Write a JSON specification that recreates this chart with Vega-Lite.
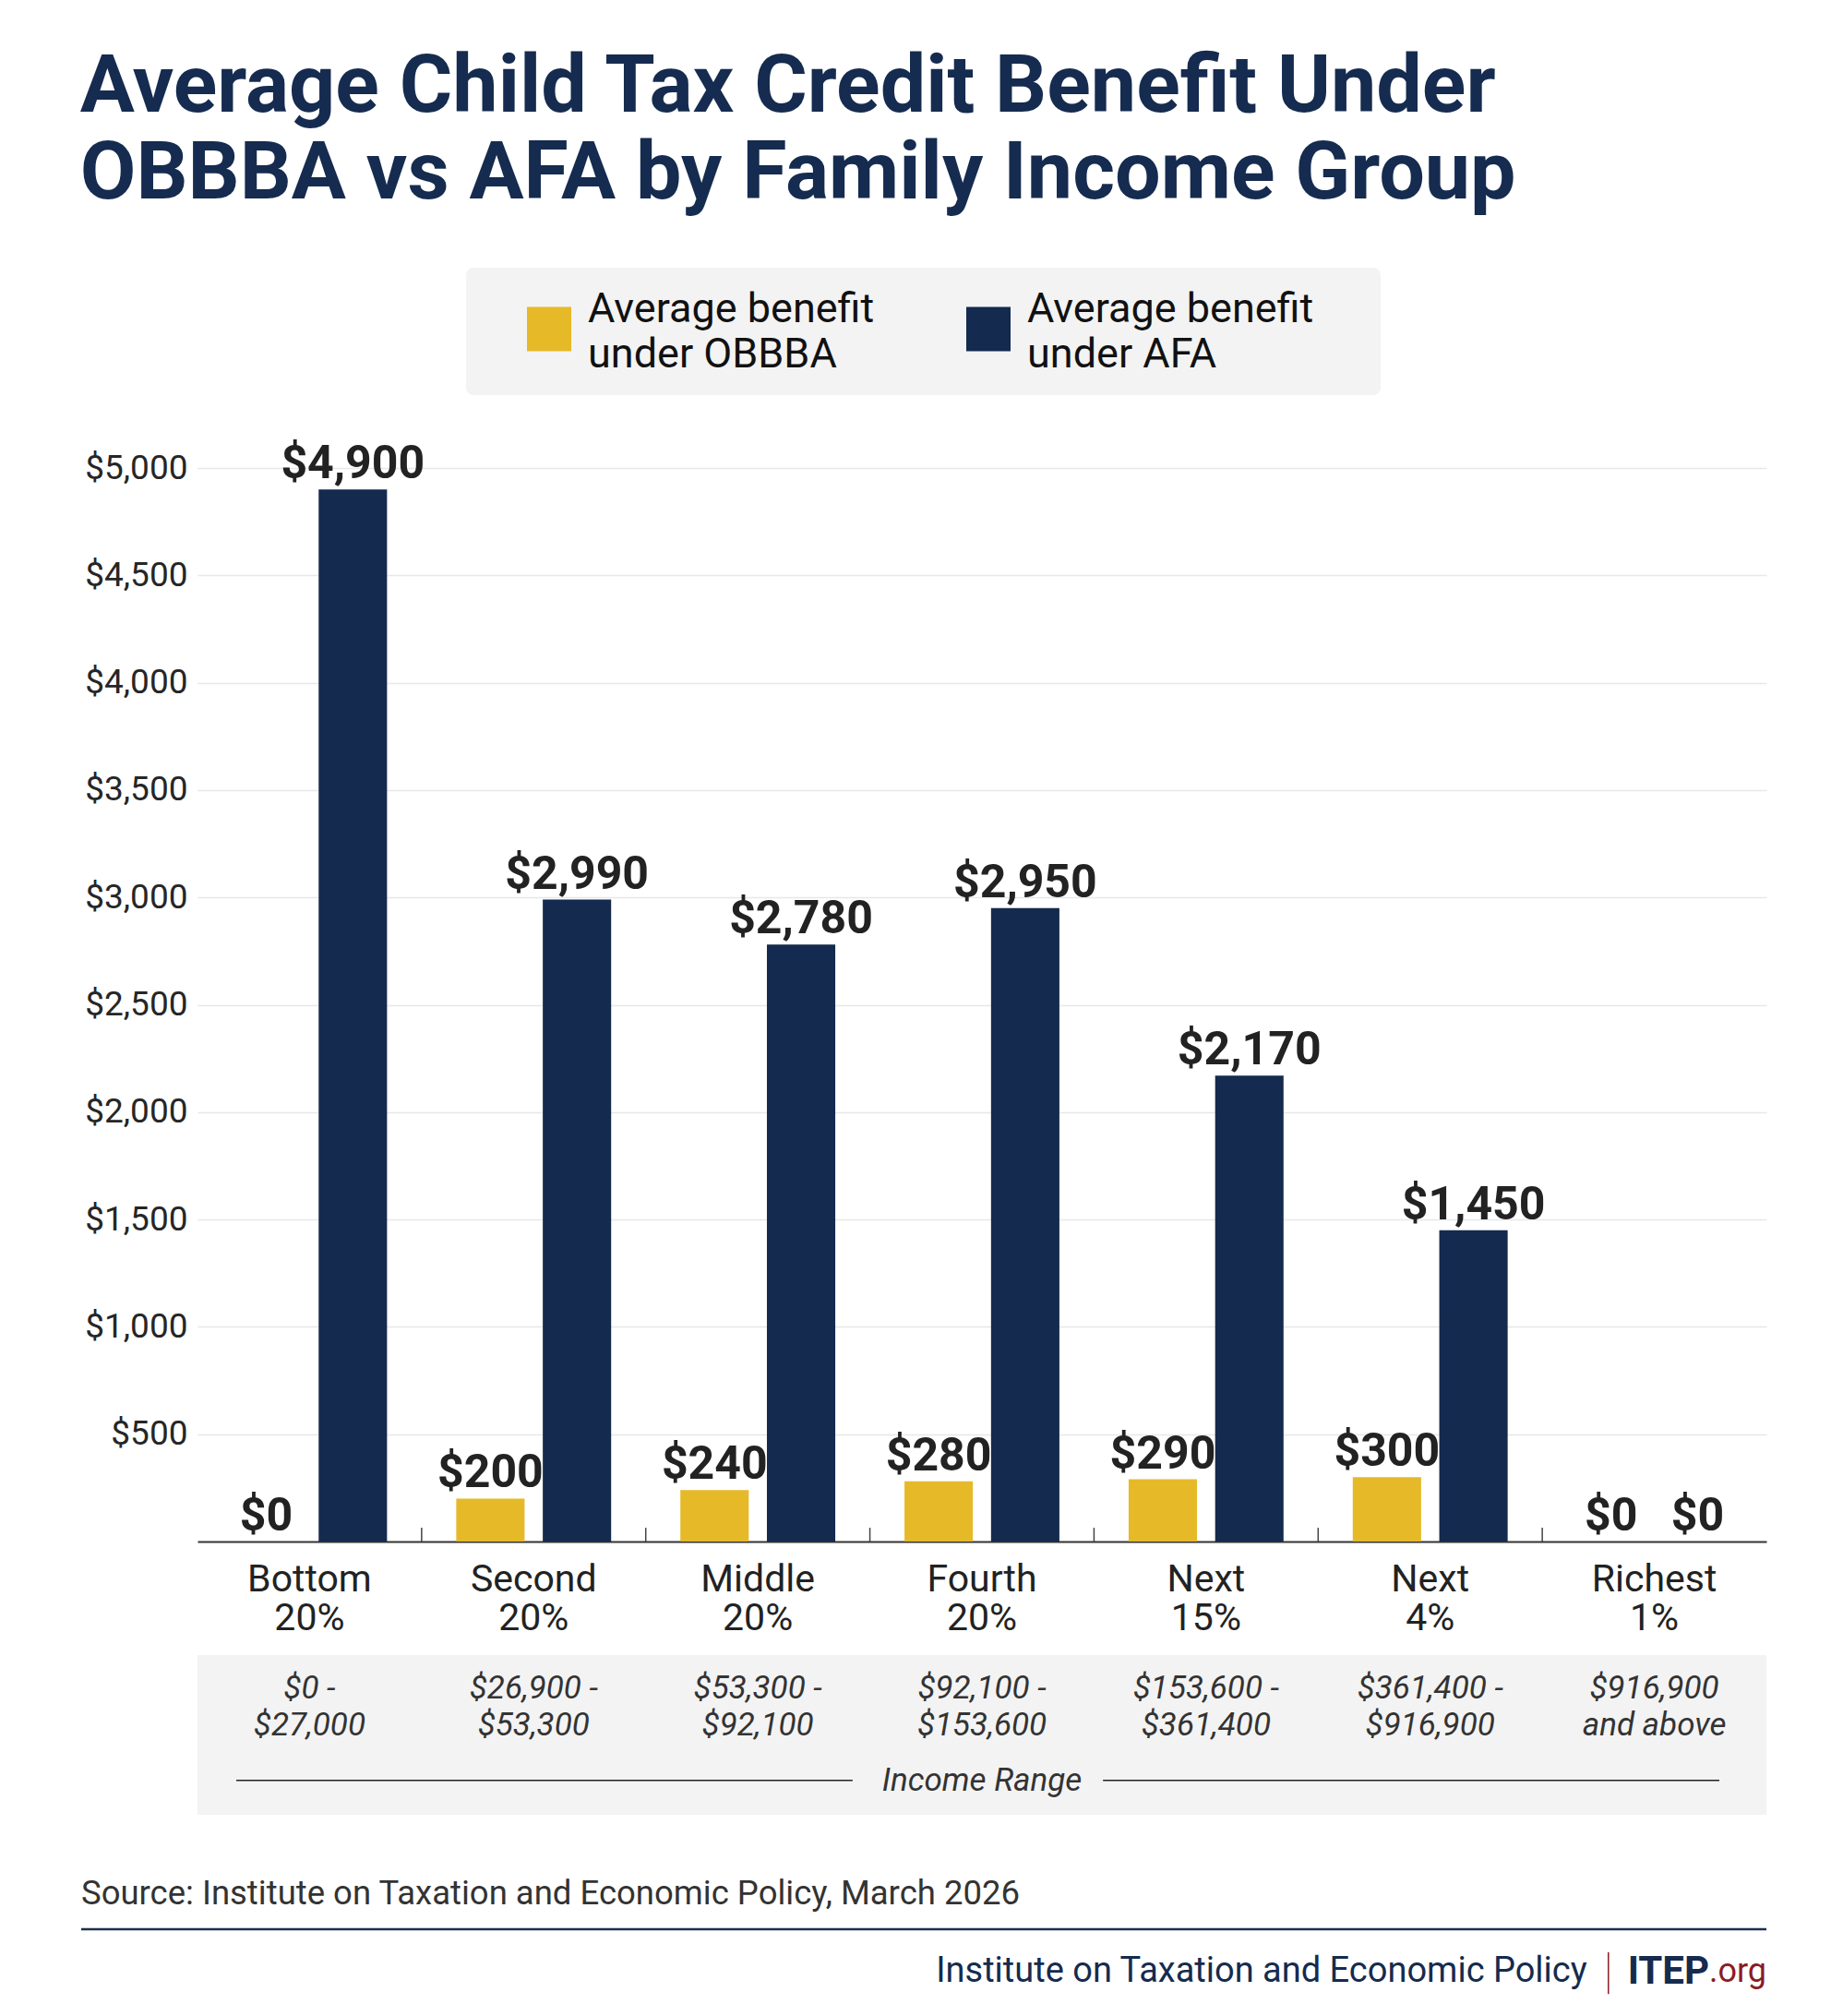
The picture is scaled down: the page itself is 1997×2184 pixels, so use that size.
{
  "$schema": "https://vega.github.io/schema/vega-lite/v6.json",
  "background": "white",
  "padding": {"left": 86, "top": 51, "right": 84, "bottom": 7},
  "datasets": {
    "bars": [
      {"group": "Bottom 20%", "series": "OBBBA", "value": 0},
      {"group": "Bottom 20%", "series": "AFA", "value": 4900},
      {"group": "Second 20%", "series": "OBBBA", "value": 200},
      {"group": "Second 20%", "series": "AFA", "value": 2990},
      {"group": "Middle 20%", "series": "OBBBA", "value": 240},
      {"group": "Middle 20%", "series": "AFA", "value": 2780},
      {"group": "Fourth 20%", "series": "OBBBA", "value": 280},
      {"group": "Fourth 20%", "series": "AFA", "value": 2950},
      {"group": "Next 15%", "series": "OBBBA", "value": 290},
      {"group": "Next 15%", "series": "AFA", "value": 2170},
      {"group": "Next 4%", "series": "OBBBA", "value": 300},
      {"group": "Next 4%", "series": "AFA", "value": 1450},
      {"group": "Richest 1%", "series": "OBBBA", "value": 0},
      {"group": "Richest 1%", "series": "AFA", "value": 0}
    ],
    "ranges": [
      {"group": "Bottom 20%", "from": "$0 -", "to": "$27,000"},
      {"group": "Second 20%", "from": "$26,900 -", "to": "$53,300"},
      {"group": "Middle 20%", "from": "$53,300 -", "to": "$92,100"},
      {"group": "Fourth 20%", "from": "$92,100 -", "to": "$153,600"},
      {"group": "Next 15%", "from": "$153,600 -", "to": "$361,400"},
      {"group": "Next 4%", "from": "$361,400 -", "to": "$916,900"},
      {"group": "Richest 1%", "from": "$916,900", "to": "and above"}
    ]
  },
  "title": {
    "text": ["Average Child Tax Credit Benefit Under", "OBBBA vs AFA by Family Income Group"],
    "anchor": "start",
    "frame": "bounds",
    "font": "Roboto",
    "fontSize": 88,
    "fontWeight": "bold",
    "lineHeight": 94,
    "color": "#152B4F",
    "offset": 57
  },
  "spacing": 20,
  "resolve": {"scale": {"x": "independent", "y": "independent"}, "legend": {"color": "independent"}},
  "vconcat": [
    {
      "width": 1700,
      "height": 1163,
      "data": {"name": "bars"},
      "encoding": {
        "x": {
          "field": "group", "type": "nominal",
          "sort": ["Bottom 20%", "Second 20%", "Middle 20%", "Fourth 20%", "Next 15%", "Next 4%", "Richest 1%"],
          "scale": {"paddingInner": 0, "paddingOuter": 0},
          "axis": {
            "title": null,
            "labelExpr": "split(datum.label, ' ')",
            "labelFont": "Roboto",
            "labelFontSize": 41,
            "labelLineHeight": 42,
            "labelColor": "#222222",
            "labelPadding": 21,
            "labelAngle": 0,
            "domainColor": "#333333",
            "domainWidth": 2,
            "ticks": false,
            "grid": false
          }
        },
        "y": {
          "field": "value", "type": "quantitative",
          "scale": {"domain": [0, 5000], "nice": false},
          "axis": {
            "title": null,
            "values": [500, 1000, 1500, 2000, 2500, 3000, 3500, 4000, 4500, 5000],
            "format": "$,.0f",
            "labelFont": "Roboto",
            "labelFontSize": 37,
            "labelColor": "#262626",
            "labelPadding": 11,
            "ticks": false,
            "domain": false,
            "grid": true,
            "gridColor": "#e8e8e8",
            "gridWidth": 1.5
          }
        }
      },
      "layer": [
        {
          "mark": {"type": "bar"},
          "encoding": {
            "xOffset": {
              "field": "series", "type": "nominal", "sort": ["OBBBA", "AFA"],
              "scale": {"paddingInner": 0.21, "paddingOuter": 0.4}
            },
            "color": {
              "field": "series", "type": "nominal",
              "scale": {"domain": ["OBBBA", "AFA"], "range": ["#E6B929", "#142A4E"]},
              "legend": {
                "title": " ",
                "titleOrient": "right",
                "titleFontSize": 8,
                "titlePadding": 52,
                "orient": "none",
                "legendX": 291,
                "legendY": -217,
                "direction": "horizontal",
                "fillColor": "#f3f3f3",
                "cornerRadius": 8,
                "padding": 21,
                "symbolType": "M-1,-0.1H1V1.9H-1Z",
                "symbolSize": 2304,
                "symbolStrokeWidth": 0,
                "symbolOffset": 45,
                "labelOffset": 18,
                "labelFont": "Roboto",
                "labelFontSize": 45,
                "labelColor": "#111111",
                "labelLimit": 0,
                "columnPadding": 54,
                "labelExpr": "datum.label === 'OBBBA' ? ['Average benefit', 'under OBBBA'] : ['Average benefit', 'under AFA']",
                "encode": {
                  "labels": {"update": {"lineHeight": {"value": 49}}}
                }
              }
            }
          }
        },
        {
          "mark": {"type": "text", "baseline": "alphabetic", "dy": -12, "font": "Roboto", "fontWeight": "bold", "fontSize": 50, "color": "#222222"},
          "encoding": {
            "xOffset": {
              "field": "series", "type": "nominal", "sort": ["OBBBA", "AFA"],
              "scale": {"paddingInner": 0.21, "paddingOuter": 0.4}
            },
            "text": {"field": "value", "type": "quantitative", "format": "$,.0f"}
          }
        },
        {
          "transform": [{"filter": "datum.series === 'AFA' && datum.group !== 'Bottom 20%'"}],
          "mark": {"type": "rule", "color": "#444444", "strokeWidth": 1.5},
          "encoding": {
            "x": {"field": "group", "type": "nominal", "sort": ["Bottom 20%", "Second 20%", "Middle 20%", "Fourth 20%", "Next 15%", "Next 4%", "Richest 1%"], "bandPosition": 0},
            "y": {"datum": 0, "type": "quantitative"},
            "y2": {"datum": 64}
          }
        }
      ]
    },
    {
      "width": 1700,
      "height": 173,
      "view": {"fill": "#f3f3f3", "stroke": null},
      "data": {"name": "ranges"},
      "resolve": {"scale": {"x": "independent"}},
      "layer": [
        {
          "mark": {"type": "text", "font": "Roboto", "fontStyle": "italic", "fontSize": 35, "color": "#333333", "baseline": "middle"},
          "encoding": {
            "x": {"field": "group", "type": "nominal", "sort": ["Bottom 20%", "Second 20%", "Middle 20%", "Fourth 20%", "Next 15%", "Next 4%", "Richest 1%"], "scale": {"paddingInner": 0, "paddingOuter": 0}, "axis": null},
            "y": {"datum": 0.21, "type": "quantitative", "scale": {"domain": [0, 1], "reverse": true}, "axis": null},
            "text": {"field": "from"}
          }
        },
        {
          "mark": {"type": "text", "font": "Roboto", "fontStyle": "italic", "fontSize": 35, "color": "#333333", "baseline": "middle"},
          "encoding": {
            "x": {"field": "group", "type": "nominal", "sort": ["Bottom 20%", "Second 20%", "Middle 20%", "Fourth 20%", "Next 15%", "Next 4%", "Richest 1%"], "scale": {"paddingInner": 0, "paddingOuter": 0}, "axis": null},
            "y": {"datum": 0.44, "type": "quantitative", "scale": {"domain": [0, 1], "reverse": true}, "axis": null},
            "text": {"field": "to"}
          }
        },
        {
          "data": {"values": [{}]},
          "layer": [
            {
              "mark": {"type": "text", "font": "Roboto", "fontStyle": "italic", "fontSize": 35, "color": "#333333", "baseline": "middle", "text": "Income Range"},
              "encoding": {
                "x": {"datum": 3.5, "type": "quantitative", "scale": {"domain": [0, 7]}, "axis": null},
                "y": {"datum": 0.785, "type": "quantitative", "scale": {"domain": [0, 1], "reverse": true}, "axis": null}
              }
            },
            {
              "mark": {"type": "rule", "color": "#222222", "strokeWidth": 1.5},
              "encoding": {
                "x": {"datum": 0.173, "type": "quantitative", "scale": {"domain": [0, 7]}, "axis": null},
                "x2": {"datum": 2.923},
                "y": {"datum": 0.785, "type": "quantitative", "scale": {"domain": [0, 1], "reverse": true}, "axis": null}
              }
            },
            {
              "mark": {"type": "rule", "color": "#222222", "strokeWidth": 1.5},
              "encoding": {
                "x": {"datum": 4.04, "type": "quantitative", "scale": {"domain": [0, 7]}, "axis": null},
                "x2": {"datum": 6.79},
                "y": {"datum": 0.785, "type": "quantitative", "scale": {"domain": [0, 1], "reverse": true}, "axis": null}
              }
            }
          ]
        }
      ]
    },
    {
      "width": 1700,
      "height": 195,
      "data": {"values": [{}]},
      "layer": [
        {
          "mark": {"type": "text", "font": "Roboto", "fontSize": 36.5, "color": "#333333", "align": "left", "baseline": "middle", "text": "Source: Institute on Taxation and Economic Policy, March 2026"},
          "encoding": {
            "x": {"datum": -0.519, "type": "quantitative", "scale": {"domain": [0, 7]}, "axis": null},
            "y": {"datum": 0.339, "type": "quantitative", "scale": {"domain": [0, 1], "reverse": true}, "axis": null}
          }
        },
        {
          "mark": {"type": "rule", "color": "#1E2F4F", "strokeWidth": 2.5},
          "encoding": {
            "x": {"datum": -0.519, "type": "quantitative", "scale": {"domain": [0, 7]}, "axis": null},
            "x2": {"datum": 7},
            "y": {"datum": 0.533, "type": "quantitative", "scale": {"domain": [0, 1], "reverse": true}, "axis": null}
          }
        },
        {
          "mark": {"type": "text", "font": "Roboto", "fontSize": 38, "color": "#152B4F", "align": "right", "baseline": "middle", "text": "Institute on Taxation and Economic Policy"},
          "encoding": {
            "x": {"datum": 6.2, "type": "quantitative", "scale": {"domain": [0, 7]}, "axis": null},
            "y": {"datum": 0.77, "type": "quantitative", "scale": {"domain": [0, 1], "reverse": true}, "axis": null}
          }
        },
        {
          "mark": {"type": "rule", "color": "#8B1C24", "strokeWidth": 1.5},
          "encoding": {
            "x": {"datum": 6.295, "type": "quantitative", "scale": {"domain": [0, 7]}, "axis": null},
            "y": {"datum": 0.662, "type": "quantitative", "scale": {"domain": [0, 1], "reverse": true}, "axis": null},
            "y2": {"datum": 0.893}
          }
        },
        {
          "mark": {"type": "text", "font": "Roboto", "fontSize": 42, "fontWeight": "bold", "color": "#152B4F", "align": "right", "baseline": "middle", "text": "ITEP"},
          "encoding": {
            "x": {"datum": 6.745, "type": "quantitative", "scale": {"domain": [0, 7]}, "axis": null},
            "y": {"datum": 0.77, "type": "quantitative", "scale": {"domain": [0, 1], "reverse": true}, "axis": null}
          }
        },
        {
          "mark": {"type": "text", "font": "Roboto", "fontSize": 36, "color": "#8B1C24", "align": "right", "baseline": "middle", "text": ".org"},
          "encoding": {
            "x": {"datum": 7, "type": "quantitative", "scale": {"domain": [0, 7]}, "axis": null},
            "y": {"datum": 0.77, "type": "quantitative", "scale": {"domain": [0, 1], "reverse": true}, "axis": null}
          }
        }
      ]
    }
  ],
  "config": {
    "view": {"stroke": null},
    "font": "Roboto"
  }
}
